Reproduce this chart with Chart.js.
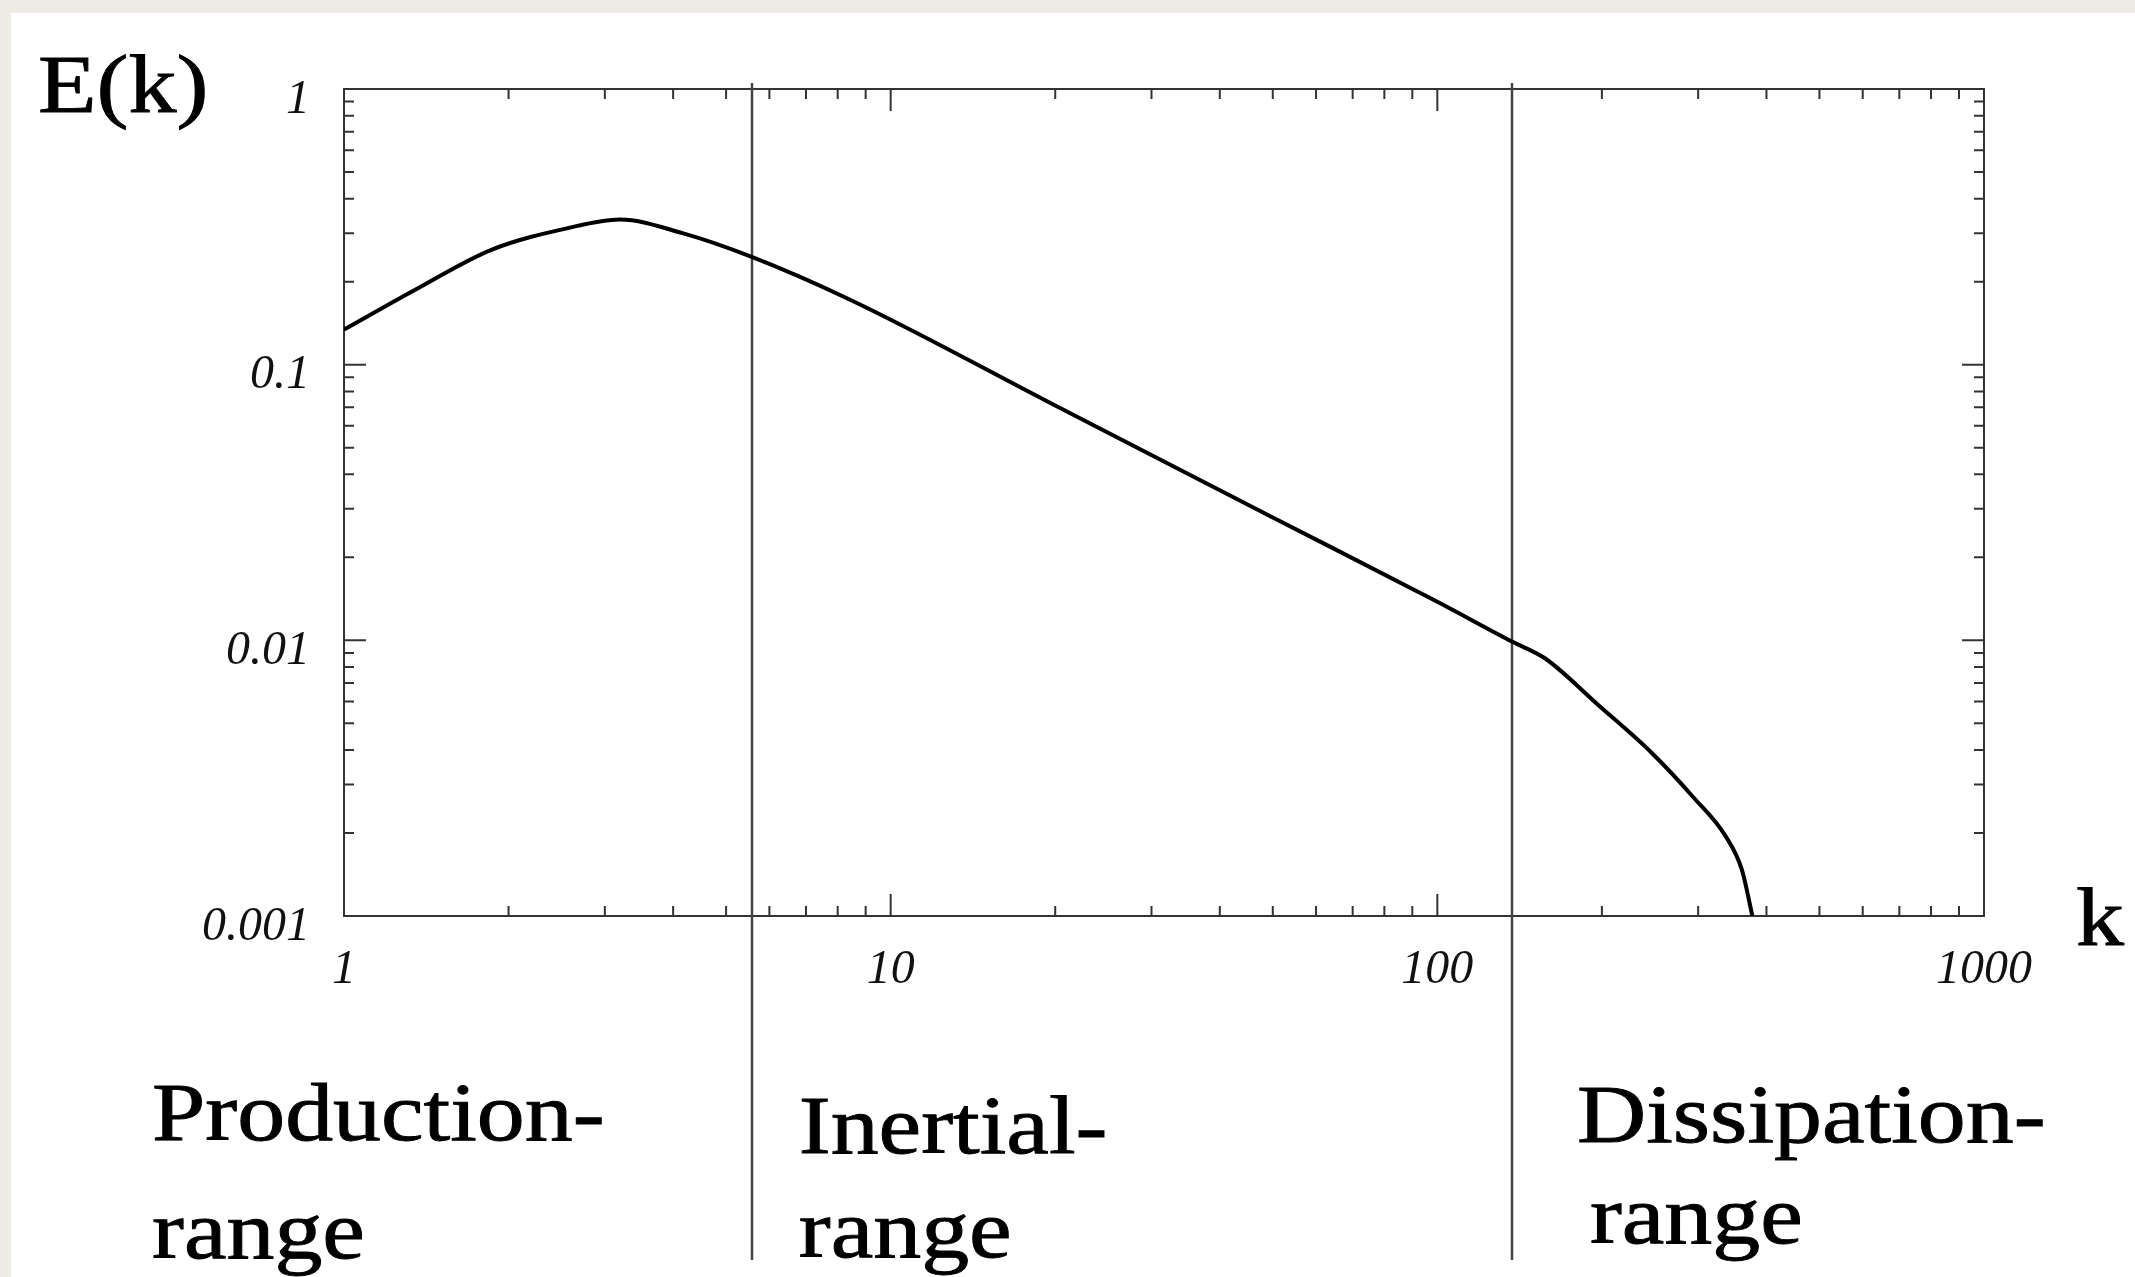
<!DOCTYPE html>
<html>
<head>
<meta charset="utf-8">
<script src="https://cdn.jsdelivr.net/npm/chart.js@4.4.1/dist/chart.umd.min.js"></script>
<style>
  html, body { margin: 0; padding: 0; }
  body { width: 2135px; height: 1277px; background: #eeebe4; position: relative; overflow: hidden; }
  #paper { position: absolute; left: 11px; top: 13px; right: 0; bottom: 0; background: #fff; }
  #spectrum { position: absolute; left: 0; top: 0; }
</style>
</head>
<body>
<div id="paper"></div>
<canvas id="spectrum" width="2135" height="1277"></canvas>
<script>
// energy spectrum E(k)
const waveNumbers = [1, 1.35, 1.86, 2.57, 3.2, 4.16, 5.57, 8.43, 20, 50, 100, 136.9, 157.3, 196.9, 246.3, 294.8, 337.2, 360.7, 377];
const energy = [0.134, 0.187, 0.261, 0.313, 0.336, 0.300, 0.246, 0.172, 0.0711, 0.0279, 0.0138, 0.0099, 0.00861, 0.00583, 0.00392, 0.00268, 0.00194, 0.00147, 0.001];

// borders between the three ranges
const rangeBounds = [5.57, 136.9];
const rangeNames = [['Production-', 'range'], ['Inertial-', 'range'], ['Dissipation-', 'range']];

const xTickValues = [1, 10, 100, 1000];
const xTickLabels = ['1', '10', '100', '1000'];
const yTickValues = [0.001, 0.01, 0.1, 1];
const yTickLabels = ['0.001', '0.01', '0.1', '1'];

const isDecade = v => Math.abs(Math.log10(v) - Math.round(Math.log10(v))) < 1e-6;

function labelFor(values, labels) {
    return v => {
        const i = values.findIndex(t => Math.abs(Math.log10(t) - Math.log10(v)) < 1e-6);
        return i >= 0 ? labels[i] : '';
    };
}

// 1..9 in every decade between min and max
function logTicks(scale) {
    const ticks = [];
    const lo = Math.round(Math.log10(scale.min));
    const hi = Math.round(Math.log10(scale.max));
    for (let e = lo; e <= hi; e++) {
        for (let m = 1; m <= 9; m++) {
            const v = parseFloat((m * Math.pow(10, e)).toPrecision(6));
            if (v >= scale.min * 0.999 && v <= scale.max * 1.001) ticks.push({ value: v });
        }
    }
    scale.ticks = ticks;
}

function stretchText(ctx, text, x, y) {
    ctx.save();
    ctx.translate(x, y);
    ctx.scale(1.155, 1);
    ctx.fillText(text, 0, 0);
    ctx.strokeText(text, 0, 0);
    ctx.restore();
}

const framePlugin = {
    id: 'frame',
    beforeDatasetsDraw(chart) {
        const { ctx, chartArea: a, scales: { x, y } } = chart;
        ctx.save();
        ctx.strokeStyle = '#333';
        ctx.lineWidth = 2;
        ctx.strokeRect(a.left, a.top, a.width, a.height);

        // inward ticks on all four sides
        ctx.beginPath();
        x.ticks.forEach(t => {
            const px = x.getPixelForValue(t.value);
            const len = isDecade(t.value) ? 22 : 10;
            ctx.moveTo(px, a.bottom); ctx.lineTo(px, a.bottom - len);
            ctx.moveTo(px, a.top); ctx.lineTo(px, a.top + len);
        });
        y.ticks.forEach(t => {
            const py = y.getPixelForValue(t.value);
            const len = isDecade(t.value) ? 22 : 10;
            ctx.moveTo(a.left, py); ctx.lineTo(a.left + len, py);
            ctx.moveTo(a.right, py); ctx.lineTo(a.right - len, py);
        });
        ctx.stroke();

        // range borders, running down past the axis
        ctx.beginPath();
        ctx.strokeStyle = '#444';
        ctx.lineWidth = 2.5;
        rangeBounds.forEach(k => {
            const px = Math.round(x.getPixelForValue(k));
            ctx.moveTo(px, a.top - 6);
            ctx.lineTo(px, chart.height - 17);
        });
        ctx.stroke();
        ctx.restore();
    },
    afterDraw(chart) {
        const { ctx, chartArea: a, scales: { x } } = chart;
        const b1 = x.getPixelForValue(rangeBounds[0]);
        const b2 = x.getPixelForValue(rangeBounds[1]);
        ctx.save();
        ctx.fillStyle = '#000';
        ctx.strokeStyle = '#000';
        ctx.lineWidth = 0.9;
        ctx.font = '83px "Liberation Serif", "Times New Roman", serif';
        ctx.textAlign = 'left';
        ctx.textBaseline = 'alphabetic';

        stretchText(ctx, 'E(k)', 38, a.top + 23);
        stretchText(ctx, 'k', a.right + 92, a.bottom + 29);

        stretchText(ctx, rangeNames[0][0], a.left - 192, a.bottom + 224);
        stretchText(ctx, rangeNames[0][1], a.left - 192, a.bottom + 342);
        stretchText(ctx, rangeNames[1][0], b1 + 47, a.bottom + 237);
        stretchText(ctx, rangeNames[1][1], b1 + 47, a.bottom + 341);
        stretchText(ctx, rangeNames[2][0], b2 + 65, a.bottom + 226);
        stretchText(ctx, rangeNames[2][1], b2 + 78, a.bottom + 327);
        ctx.restore();
    }
};

const tickFont = { family: '"Liberation Serif", "Times New Roman", serif', style: 'italic', size: 48 };

new Chart(document.getElementById('spectrum'), {
    type: 'line',
    data: {
        datasets: [{
            data: waveNumbers.map((k, i) => ({ x: k, y: energy[i] })),
            borderColor: '#000',
            borderWidth: 4,
            pointRadius: 0,
            cubicInterpolationMode: 'monotone',
            fill: false
        }]
    },
    options: {
        responsive: false,
        animation: false,
        layout: { padding: { left: 0, top: 89, right: 151, bottom: 0 } },
        plugins: {
            legend: { display: false },
            tooltip: { enabled: false }
        },
        scales: {
            x: {
                type: 'logarithmic',
                min: 1,
                max: 1000,
                grid: { display: false, drawTicks: false },
                border: { display: false },
                afterBuildTicks: logTicks,
                afterFit: s => { s.height = 1277 - 916; },
                ticks: {
                    autoSkip: false,
                    maxRotation: 0,
                    padding: 26,
                    color: '#111',
                    font: tickFont,
                    callback: labelFor(xTickValues, xTickLabels)
                }
            },
            y: {
                type: 'logarithmic',
                min: 0.001,
                max: 1,
                grid: { display: false, drawTicks: false },
                border: { display: false },
                afterBuildTicks: logTicks,
                afterFit: s => { s.width = 344; },
                ticks: {
                    autoSkip: false,
                    padding: 34,
                    labelOffset: 11,
                    color: '#111',
                    font: tickFont,
                    callback: labelFor(yTickValues, yTickLabels)
                }
            }
        }
    },
    plugins: [framePlugin]
});
</script>
</body>
</html>
